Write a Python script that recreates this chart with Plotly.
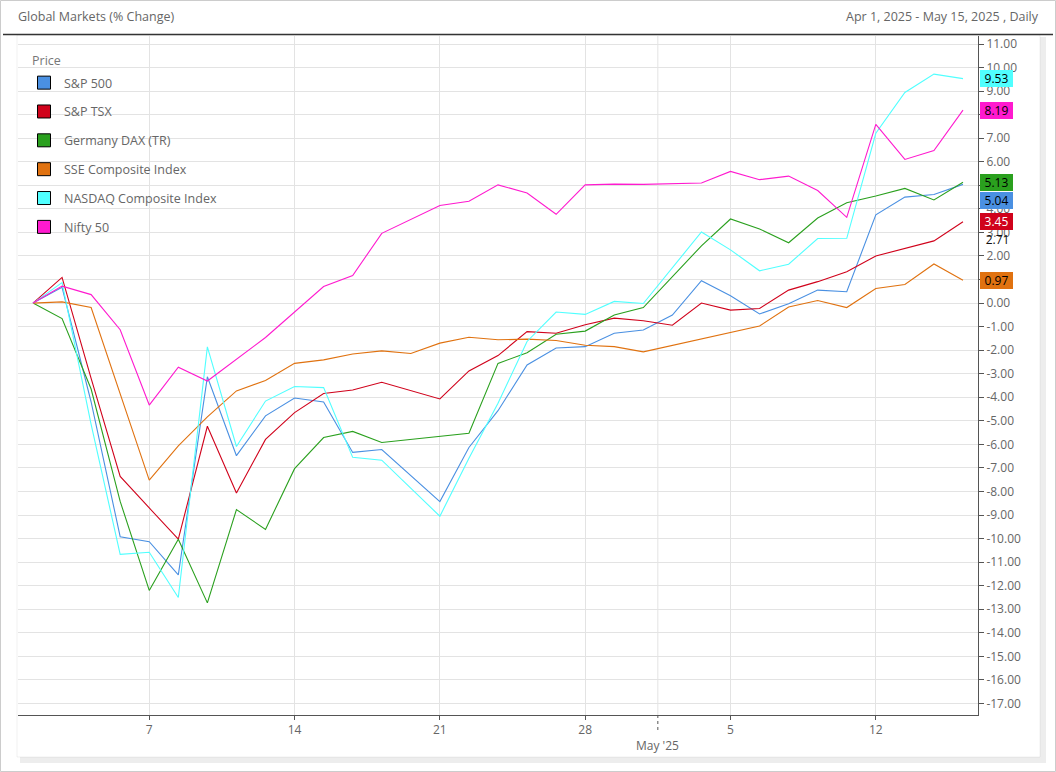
import plotly.graph_objects as go

# ---------------- data ----------------
dates = [
    "2025-04-01", "2025-04-02", "2025-04-03", "2025-04-04", "2025-04-07", "2025-04-08",
    "2025-04-09", "2025-04-10", "2025-04-11", "2025-04-14", "2025-04-15", "2025-04-16",
    "2025-04-17", "2025-04-18", "2025-04-21", "2025-04-22", "2025-04-23", "2025-04-24",
    "2025-04-25", "2025-04-28", "2025-04-29", "2025-04-30", "2025-05-01", "2025-05-02",
    "2025-05-05", "2025-05-06", "2025-05-07", "2025-05-08", "2025-05-09", "2025-05-12",
    "2025-05-13", "2025-05-14", "2025-05-15",
]

sp500 = [0.00, 0.67, -4.20, -9.92, -10.13, -11.54, -3.13, -6.48, -4.79, -4.03, -4.20, -6.34,
         -6.22, None, -8.43, -6.13, -4.57, -2.63, -1.91, -1.85, -1.28, -1.14, -0.51, 0.95,
         0.31, -0.46, -0.03, 0.55, 0.48, 3.75, 4.50, 4.61, 5.04]
sptsx = [0.00, 1.09, -3.20, -7.36, -8.70, -10.02, -5.23, -8.06, -5.79, -4.65, -3.84, -3.69,
         -3.36, None, -4.07, -2.88, -2.23, -1.21, -1.28, -0.92, -0.64, -0.75, -0.94, 0.00,
         -0.30, -0.23, 0.55, 0.91, 1.33, 2.00, 2.33, 2.64, 3.45]
dax = [0.00, -0.66, -3.65, -8.42, -12.20, -10.03, -12.73, -8.77, -9.61, -7.03, -5.71, -5.45,
       -5.92, None, None, -5.53, -2.56, -2.11, -1.32, -1.19, -0.51, -0.19, None, 2.43,
       3.57, 3.15, 2.56, 3.61, 4.26, 4.55, 4.87, 4.38, 5.13]
sse = [0.00, 0.05, -0.19, None, -7.52, -6.06, -4.83, -3.73, -3.29, -2.56, -2.41, -2.16,
       -2.03, -2.14, -1.70, -1.45, -1.56, -1.53, -1.59, -1.79, -1.85, -2.07, None, None,
       None, -0.97, -0.17, 0.11, -0.19, 0.62, 0.79, 1.66, 0.97]
nasdaq = [0.00, 0.87, -5.15, -10.67, -10.58, -12.50, -1.86, -6.09, -4.16, -3.54, -3.59, -6.55,
          -6.67, None, -9.05, -6.59, -4.25, -1.63, -0.38, -0.48, 0.07, -0.02, 1.49, 3.02,
          2.26, 1.37, 1.65, 2.74, 2.75, 7.21, 8.94, 9.72, 9.53]
nifty = [0.00, 0.72, 0.36, -1.13, -4.33, -2.72, -3.31, None, -1.46, None, 0.70, 1.17,
         2.96, None, 4.14, 4.32, 5.02, 4.67, 3.77, 5.02, 5.05, 5.04, None, 5.10,
         5.59, 5.24, 5.39, 4.78, 3.64, 7.59, 6.10, 6.48, 8.19]

series_names = ["S&P 500", "S&P TSX", "Germany DAX (TR)", "SSE Composite Index",
                "NASDAQ Composite Index", "Nifty 50"]
series_values = [sp500, sptsx, dax, sse, nasdaq, nifty]
series_colors = ["#4A90E2", "#D0021B", "#2AA01E", "#E07210", "#50FFFF", "#FF1ACF"]
label_text_colors = ["#000000", "#FFFFFF", "#000000", "#000000", "#000000", "#000000"]
label_yshift = [-16, 0, 0, 0, 0, 0]

x_tick_dates = ["2025-04-07", "2025-04-14", "2025-04-21", "2025-04-28", "2025-05-05", "2025-05-12"]
x_tick_labels = ["7", "14", "21", "28", "5", "12"]
month_label = "May '25"
y_tick_values = list(range(-17, 12))
y_tick_labels = [f"{v:.2f}" for v in y_tick_values]
extra_axis_value = 2.71

title_left = "Global Markets (% Change)"
title_right = "Apr 1, 2025 - May 15, 2025 , Daily"
legend_title = "Price"

# ---------------- layout geometry ----------------
W, H = 1056, 772
L, R, T, B = 18, 978, 36, 715


def px_x(x):
    return (x - L) / (R - L)


def px_y(y):
    return (B - y) / (B - T)


FONT = "Open Sans, Noto Sans, DejaVu Sans, sans-serif"
GRID = "#e3e3e3"
AXIS = "#555555"
TXT = "#666666"

fig = go.Figure()

for name, vals, col in zip(series_names, series_values, series_colors):
    fig.add_trace(go.Scatter(
        x=dates, y=vals, mode="lines", name=name, connectgaps=True,
        line=dict(color=col, width=1.1), showlegend=False, hoverinfo="skip",
    ))

for i, (name, col) in enumerate(zip(series_names, series_colors)):
    fig.add_trace(go.Scatter(
        x=[None], y=[None], mode="markers", name=name, legendgroup=f"g{i}",
        marker=dict(symbol="square", size=13, color=col, line=dict(color="#000000", width=1)),
        showlegend=True,
    ))

shapes = [
    dict(type="rect", xref="paper", yref="paper", layer="below",
         x0=px_x(20), x1=px_x(1046), y0=px_y(763), y1=px_y(37),
         fillcolor="rgba(0,0,0,0.07)", line=dict(width=0)),
    dict(type="rect", xref="paper", yref="paper", layer="below",
         x0=px_x(17), x1=px_x(1040), y0=px_y(757), y1=px_y(35),
         fillcolor="#ffffff", line=dict(color="rgba(0,0,0,0.06)", width=1)),
    dict(type="rect", xref="paper", yref="paper", layer="above",
         x0=px_x(0.5), x1=px_x(1055.5), y0=px_y(771.5), y1=px_y(0.5),
         line=dict(color="#cccccc", width=1)),
    dict(type="line", xref="paper", yref="paper", layer="above",
         x0=px_x(3), x1=px_x(1053), y0=px_y(34.5), y1=px_y(34.5),
         line=dict(color="#333333", width=1.5)),
    dict(type="line", xref="x", yref="paper", layer="below",
         x0=21.5, x1=21.5, y0=0, y1=1, line=dict(color=GRID, width=1)),
    dict(type="line", xref="x", yref="paper", layer="above",
         x0=21.5, x1=21.5, y0=0, y1=px_y(733), line=dict(color=AXIS, width=1, dash="dot")),
]

annotations = [
    dict(text=title_left, xref="paper", yref="paper", x=px_x(16), y=px_y(16),
         xanchor="left", yanchor="middle", showarrow=False,
         font=dict(family=FONT, size=12.5, color=TXT)),
    dict(text=title_right, xref="paper", yref="paper", x=px_x(1041), y=px_y(16),
         xanchor="right", yanchor="middle", showarrow=False,
         font=dict(family=FONT, size=12.5, color=TXT)),
    dict(text=legend_title, xref="paper", yref="paper", x=px_x(30), y=px_y(61),
         xanchor="left", yanchor="middle", showarrow=False,
         font=dict(family=FONT, size=12.5, color="#777777")),
    dict(text=month_label, xref="x", yref="paper", x=21.5, y=px_y(745),
         xanchor="center", yanchor="middle", showarrow=False,
         font=dict(family=FONT, size=12, color=TXT)),
    dict(text=f"{extra_axis_value:.2f}", xref="paper", yref="y", x=1, y=extra_axis_value,
         xanchor="left", yanchor="middle", xshift=2, showarrow=False, width=31, height=15,
         font=dict(family=FONT, size=12, color="#111111")),
]

for vals, col, tcol, ys in zip(series_values, series_colors, label_text_colors, label_yshift):
    last = vals[-1]
    annotations.append(dict(
        text=f"{last:.2f}", xref="paper", yref="y", x=1, y=last, xanchor="left",
        yanchor="middle", xshift=2, yshift=ys, showarrow=False, width=31, height=15,
        bgcolor=col, bordercolor=col, borderwidth=1, borderpad=0,
        font=dict(family=FONT, size=12, color=tcol),
    ))

fig.update_layout(
    width=W, height=H,
    margin=dict(l=L, r=W - R, t=T, b=H - B, pad=0),
    paper_bgcolor="#ffffff", plot_bgcolor="rgba(0,0,0,0)",
    font=dict(family=FONT, size=12, color=TXT),
    showlegend=True,
    legend=dict(
        x=px_x(24), y=px_y(68), xanchor="left", yanchor="top",
        bgcolor="rgba(0,0,0,0)", borderwidth=0,
        font=dict(family=FONT, size=12.5, color=TXT),
        traceorder="grouped", tracegroupgap=9.6, itemclick=False,
    ),
    shapes=shapes, annotations=annotations,
    xaxis=dict(
        type="category", categoryorder="array", categoryarray=dates,
        range=[-0.516, 32.516], tickmode="array", tickvals=x_tick_dates, ticktext=x_tick_labels,
        showgrid=True, gridcolor=GRID, gridwidth=1,
        showline=True, linecolor=AXIS, linewidth=1,
        ticks="outside", ticklen=4, tickcolor=AXIS,
        tickfont=dict(family=FONT, size=12, color=TXT), zeroline=False,
    ),
    yaxis=dict(
        side="right", range=[-17.49, 11.34], tickmode="array",
        tickvals=y_tick_values, ticktext=y_tick_labels,
        showgrid=True, gridcolor=GRID, gridwidth=1,
        showline=True, linecolor=AXIS, linewidth=1,
        ticks="outside", ticklen=5, tickcolor=AXIS,
        tickfont=dict(family=FONT, size=12, color=TXT), zeroline=False,
    ),
)

fig.write_html(
    "out.html",
    config={"displayModeBar": False},
    post_script="document.body.style.margin='0px';document.body.style.overflow='hidden';",
)
